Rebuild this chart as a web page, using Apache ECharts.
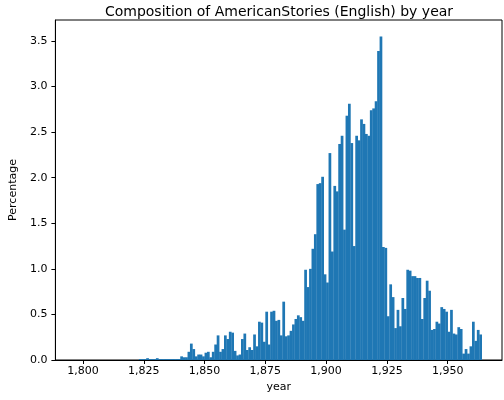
<!DOCTYPE html>
<html lang="en">
<head>
    <meta charset="UTF-8">
    <title>Composition of AmericanStories</title>
    <script src="https://cdn.jsdelivr.net/npm/echarts@6/dist/echarts.min.js"></script>
    <style>body{margin:0;background:#fff}</style>
</head>
<body>
<div id="main" style="width:504px;height:400px;"></div>
<script>
    var firstYear = 1797;
    // percentage per year, from 1797 to 1963
    var earlyZeros = 26; // 1797-1822
    var values = [
        0.01,0.01,0.01,0.02,0.01,0.01,0.01,0.02,0.01,0.01,0.01,0.01,
        0.01,0.01,0.01,0.01,0.01,
        0.04,0.03,0.03,0.09,0.18,0.12,0.04,0.06,0.06,0.04,
        0.08,0.09,0.03,0.09,0.17,0.27,0.09,0.12,0.27,0.23,
        0.31,0.30,0.10,0.05,0.06,0.23,0.29,0.11,0.14,0.11,
        0.28,0.15,0.42,0.41,0.20,0.53,0.17,0.53,0.54,0.43,
        0.44,0.27,0.64,0.26,0.27,0.32,0.39,0.45,0.49,0.47,0.43,
        0.99,0.80,1.00,1.22,1.38,1.93,1.94,2.01,0.94,0.85,
        2.27,1.19,1.91,1.85,2.37,2.46,1.43,2.68,2.81,2.38,
        1.25,2.46,2.41,2.64,2.59,2.48,2.46,2.74,2.76,2.84,
        3.39,3.55,1.24,1.23,
        0.48,0.83,0.69,0.35,0.55,0.37,0.68,0.56,0.99,0.98,
        0.92,0.92,0.90,0.90,0.45,0.68,0.87,0.76,0.33,0.34,
        0.42,0.40,0.58,0.56,0.53,0.31,0.55,0.29,0.28,0.36,
        0.34,0.07,0.12,0.07,0.15,0.42,0.21,0.33,0.28
    ];
    var xTicks = [1800, 1825, 1850, 1875, 1900, 1925, 1950];

    var data = [];
    for (var i = 0; i < earlyZeros; i++) data.push([firstYear + i, 0]);
    for (var j = 0; j < values.length; j++) data.push([firstYear + earlyZeros + j, values[j]]);

    var font = 'DejaVu Sans';
    var chart = echarts.init(document.getElementById('main'));
    chart.setOption({
        animation: false,
        textStyle: {fontFamily: font},
        title: {
            text: 'Composition of AmericanStories (English) by year',
            left: 274, top: 0, textAlign: 'center',
            textStyle: {fontFamily: font, fontSize: 14, fontWeight: 'normal', color: '#000'}
        },
        grid: {left: 46, right: 2, top: 20, bottom: 40, show: true, borderColor: '#000', borderWidth: 1},
        xAxis: {
            type: 'value', min: 1788.65, max: 1972.35,
            name: 'year', nameLocation: 'middle', nameGap: 22,
            nameTextStyle: {fontSize: 11, color: '#000'},
            splitLine: {show: false},
            axisLine: {lineStyle: {color: '#000'}},
            axisTick: {customValues: xTicks, length: 4, lineStyle: {color: '#000'}},
            axisLabel: {customValues: xTicks, fontSize: 11, color: '#000', margin: 6}
        },
        yAxis: {
            type: 'value', min: 0, max: 3.73, interval: 0.5,
            name: 'Percentage', nameLocation: 'middle', nameGap: 34,
            nameTextStyle: {fontSize: 11, color: '#000'},
            splitLine: {show: false},
            axisLine: {show: true, lineStyle: {color: '#000'}},
            axisTick: {show: true, length: 4, lineStyle: {color: '#000'}},
            axisLabel: {fontSize: 11, color: '#000', formatter: function (v) { return v.toFixed(1); }, showMaxLabel: false}
        },
        series: [{
            type: 'custom',
            data: data,
            renderItem: function (params, api) {
                var y = api.value(0), v = api.value(1);
                var p0 = api.coord([y, 0]);
                var p1 = api.coord([y + 1, v]);
                return {
                    type: 'rect',
                    shape: {x: p0[0], y: p1[1], width: p1[0] - p0[0] + 0.3, height: p0[1] - p1[1]},
                    style: {fill: '#1f77b4'}
                };
            }
        }]
    });
</script>
</body>
</html>
